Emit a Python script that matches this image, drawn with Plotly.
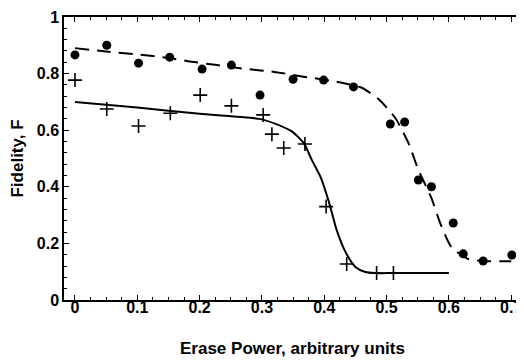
import plotly.graph_objects as go

# Measured data: filled circles (upper series)
circle_x = [0, 0.051, 0.102, 0.152, 0.204, 0.251, 0.297, 0.35, 0.399, 0.447,
            0.506, 0.529, 0.551, 0.572, 0.607, 0.623, 0.655, 0.701]
circle_y = [0.866, 0.90, 0.837, 0.858, 0.816, 0.83, 0.724, 0.78, 0.777, 0.753,
            0.622, 0.629, 0.424, 0.40, 0.272, 0.163, 0.138, 0.159]

# Measured data: crosses (lower series)
cross_x = [0, 0.051, 0.102, 0.153, 0.201, 0.251, 0.302, 0.316, 0.335, 0.369,
           0.403, 0.436, 0.484, 0.511]
cross_y = [0.777, 0.675, 0.615, 0.66, 0.724, 0.686, 0.654, 0.586, 0.537, 0.551,
           0.33, 0.127, 0.095, 0.095]

# Fit curves
dash_fit_x = [0, 0.05, 0.1, 0.15, 0.184, 0.228, 0.276, 0.32, 0.364, 0.41, 0.46,
              0.487, 0.514, 0.535, 0.551, 0.572, 0.586, 0.604, 0.631, 0.655, 0.684, 0.70]
dash_fit_y = [0.89, 0.878, 0.868, 0.855, 0.843, 0.83, 0.816, 0.806, 0.79, 0.775, 0.75,
              0.71, 0.643, 0.555, 0.46, 0.36, 0.272, 0.187, 0.145, 0.138, 0.137, 0.137]

solid_fit_x = [0, 0.1, 0.2, 0.296, 0.327, 0.349, 0.367, 0.380, 0.394, 0.407, 0.42,
               0.434, 0.45, 0.466, 0.482, 0.5, 0.55, 0.6]
solid_fit_y = [0.70, 0.68, 0.658, 0.64, 0.618, 0.594, 0.555, 0.495, 0.435, 0.35, 0.247,
               0.17, 0.117, 0.099, 0.095, 0.095, 0.095, 0.095]

x_ticks = [0, 0.1, 0.2, 0.3, 0.4, 0.5, 0.6, 0.7]
x_ticklabels = ["0", "0.1", "0.2", "0.3", "0.4", "0.5", "0.6", "0.7"]
y_ticks = [0, 0.2, 0.4, 0.6, 0.8, 1]
y_ticklabels = ["0", "0.2", "0.4", "0.6", "0.8", "1"]

FONT = "Liberation Sans, Arial, Helvetica, sans-serif"

fig = go.Figure()
fig.add_trace(go.Scatter(x=dash_fit_x, y=dash_fit_y, mode="lines",
                         line=dict(color="black", width=2, dash="14px,8px", shape="spline", smoothing=0.6),
                         showlegend=False, hoverinfo="skip"))
fig.add_trace(go.Scatter(x=solid_fit_x, y=solid_fit_y, mode="lines",
                         line=dict(color="black", width=2, shape="spline", smoothing=0.6),
                         showlegend=False, hoverinfo="skip"))
fig.add_trace(go.Scatter(x=circle_x, y=circle_y, mode="markers",
                         marker=dict(symbol="circle", size=9, color="black"),
                         showlegend=False))
fig.add_trace(go.Scatter(x=cross_x, y=cross_y, mode="markers",
                         marker=dict(symbol="cross-thin", size=10, color="black",
                                     line=dict(color="black", width=1.6)),
                         showlegend=False))

axis_common = dict(
    showline=True, linecolor="black", linewidth=1.5, mirror="allticks",
    ticks="inside", ticklen=5, tickwidth=1, tickcolor="black",
    showgrid=False, zeroline=False,
    tickfont=dict(family=FONT, size=16, color="black", weight="bold"),
)

fig.update_xaxes(range=[-0.0176, 0.7157], tickvals=x_ticks, ticktext=x_ticklabels,
                 minor=dict(ticks="inside", ticklen=3, dtick=0.025, tickcolor="black"),
                 ticklabelstandoff=-8,
                 **axis_common)
fig.update_yaxes(range=[0, 1], tickvals=y_ticks, ticktext=y_ticklabels,
                 minor=dict(ticks="inside", ticklen=3, dtick=0.04, tickcolor="black"),
                 title=dict(text="Fidelity, F", standoff=12,
                            font=dict(family=FONT, size=17, color="black", weight="bold")),
                 **axis_common)

fig.add_annotation(text="Erase Power, arbitrary units", xref="paper", yref="paper",
                   x=0.5, y=-0.173, xanchor="center", yanchor="middle", showarrow=False,
                   font=dict(family=FONT, size=17, color="black", weight="bold"))

# the page body adds an 8px offset, so the figure is sized to fill the rest of the window
fig.update_layout(width=516, height=352, margin=dict(l=56, r=1, t=9, b=60),
                  plot_bgcolor="white", paper_bgcolor="white")

fig.write_html("out.html")
